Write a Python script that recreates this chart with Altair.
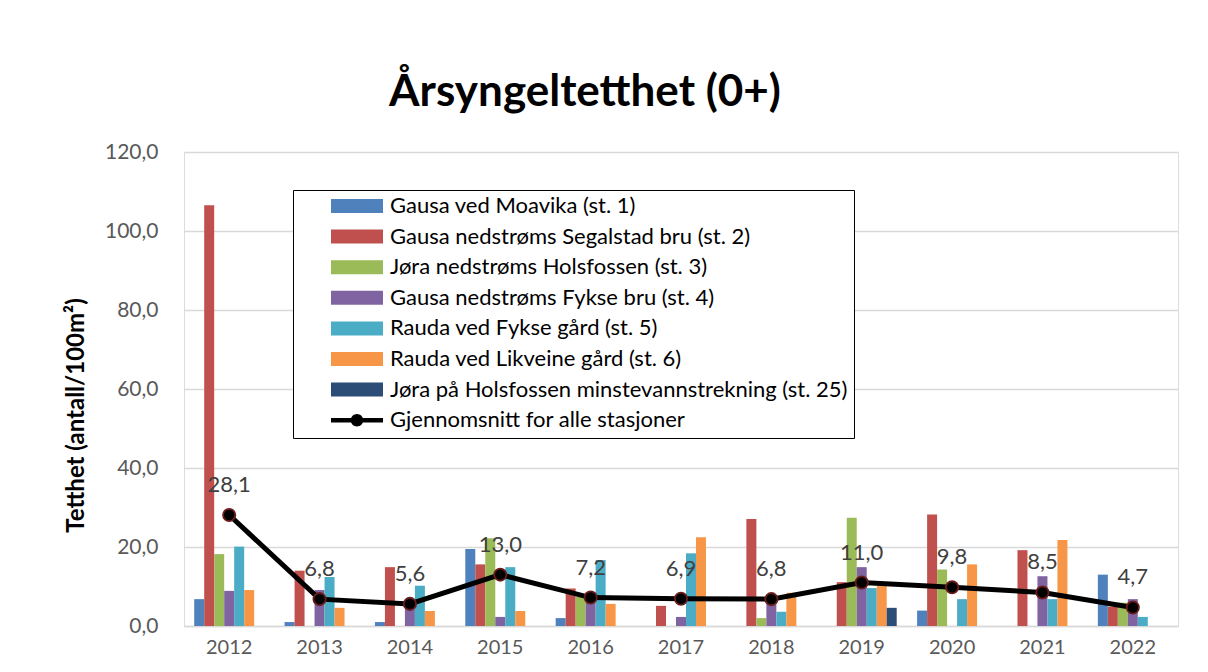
import altair as alt
import pandas as pd

FONT = "Lato"

years = ["2012", "2013", "2014", "2015", "2016", "2017", "2018", "2019", "2020", "2021", "2022"]
series_names = [
    "Gausa ved Moavika (st. 1)",
    "Gausa nedstrøms Segalstad bru (st. 2)",
    "Jøra nedstrøms Holsfossen (st. 3)",
    "Gausa nedstrøms Fykse bru (st. 4)",
    "Rauda ved Fykse gård (st. 5)",
    "Rauda ved Likveine gård (st. 6)",
    "Jøra på Holsfossen minstevannstrekning (st. 25)",
]
MEAN = "Gjennomsnitt for alle stasjoner"

st1 = [6.8, 1.0, 1.0, 19.5, 2.0, 0.0, 0.0, 0.0, 3.9, 0.0, 13.0]
st2 = [106.5, 14.0, 14.9, 15.6, 9.5, 5.1, 27.1, 11.1, 28.2, 19.2, 4.9]
st3 = [18.2, 0.0, 0.0, 22.2, 7.5, 0.0, 2.0, 27.4, 14.3, 0.0, 5.9]
st4 = [8.9, 9.1, 5.0, 2.3, 8.5, 2.3, 6.5, 14.9, 0.0, 12.6, 6.8]
st5 = [20.1, 12.4, 10.2, 14.9, 16.7, 18.4, 3.6, 9.6, 6.8, 6.8, 2.3]
st6 = [9.1, 4.6, 3.8, 3.8, 5.6, 22.5, 8.4, 10.1, 15.6, 21.8, 0.0]
st25 = [0.0, 0.0, 0.0, 0.0, 0.0, 0.0, 0.0, 4.6, 0.0, 0.0, 0.0]
mean_values = [28.1, 6.8, 5.6, 13.0, 7.2, 6.9, 6.8, 11.0, 9.8, 8.5, 4.7]

series_values = [st1, st2, st3, st4, st5, st6, st25]
colors = ["#4f81bd", "#c0504d", "#9bbb59", "#8064a2", "#4bacc6", "#f79646", "#2c4d75"]

rows = []
for name, vals in zip(series_names, series_values):
    for yr, v in zip(years, vals):
        rows.append({"year": yr, "series": name, "value": v})
df = pd.DataFrame(rows)
mean_df = pd.DataFrame({"year": years, "mean": mean_values})

RECT_PATH = "M-1,-0.27H1V0.27H-1Z"
MEAN_PATH = "M-1,-0.085H1V0.085H-1Z M0.24,0A0.24,0.24,0,1,1,-0.24,0A0.24,0.24,0,1,1,0.24,0Z"

all_names = series_names + [MEAN]
color_scale = alt.Scale(domain=all_names, range=colors + ["#000000"])
shape_scale = alt.Scale(domain=all_names, range=[RECT_PATH] * 7 + [MEAN_PATH])

legend = alt.Legend(
    title=None,
    orient="none",
    legendX=109,
    legendY=38,
    direction="vertical",
    symbolSize=2704,
    symbolStrokeWidth=0,
    symbolOpacity=1,
    labelFont=FONT,
    labelFontSize=22,
    labelColor="#000000",
    labelLimit=900,
    labelOffset=7,
    symbolOffset=32,
    clipHeight=20,
    rowPadding=8.6,
    padding=6,
    strokeColor="#000000",
    fillColor="#ffffff",
)

x_enc = alt.X(
    "year:N",
    sort=years,
    scale=alt.Scale(paddingInner=0.226, paddingOuter=0.113),
    axis=alt.Axis(
        title=None, labelAngle=0, ticks=False, domain=True, domainColor="#d9d9d9",
        domainWidth=1.5, labelPadding=11, labelFont=FONT, labelFontSize=20,
        labelColor="#595959", grid=False,
    ),
)
y_scale = alt.Scale(domain=[0, 120], nice=False)

bars = alt.Chart(df).mark_bar().encode(
    x=x_enc,
    xOffset=alt.XOffset("series:N", scale=alt.Scale(domain=series_names, paddingInner=0, paddingOuter=0)),
    y=alt.Y(
        "value:Q",
        scale=y_scale,
        axis=alt.Axis(
            values=[0, 20, 40, 60, 80, 100, 120],
            labelExpr="replace(format(datum.value, '.1f'), '.', ',')",
            grid=True, gridColor="#d9d9d9", gridWidth=1.3,
            domain=False, ticks=False, labelPadding=26,
            labelFont=FONT, labelFontSize=21, labelColor="#595959",
            title="Tetthet (antall/100m²)", titleFont=FONT, titleFontSize=24,
            titleFontWeight="bold", titleColor="#000000",
            titleX=-108, titleY=263, titleAngle=270, titleAlign="center", titleBaseline="middle",
        ),
    ),
    color=alt.Color("series:N", scale=color_scale, legend=legend),
)

# legend-only layer (draws no marks) that adds the per-entry symbol shapes
legend_layer = alt.Chart(df).transform_filter("false").mark_point(filled=True).encode(
    x=alt.X("year:N", sort=years),
    y=alt.Y("value:Q", scale=y_scale),
    color=alt.Color("series:N", scale=color_scale, legend=legend),
    shape=alt.Shape("series:N", scale=shape_scale, legend=legend),
)

line = alt.Chart(mean_df).mark_line(color="#000000", strokeWidth=5).encode(
    x=alt.X("year:N", sort=years),
    y=alt.Y("mean:Q", scale=y_scale),
)
points = alt.Chart(mean_df).mark_circle(
    size=150, color="#000000", opacity=1, stroke="#6b1d1d", strokeWidth=1.8
).encode(
    x=alt.X("year:N", sort=years),
    y=alt.Y("mean:Q", scale=y_scale),
)
labels = alt.Chart(mean_df).transform_calculate(
    lab="replace(format(datum.mean, '.1f'), '.', ',')"
).mark_text(dy=-30, font=FONT, fontSize=22, color="#404040").encode(
    x=alt.X("year:N", sort=years),
    y=alt.Y("mean:Q", scale=y_scale),
    text="lab:N",
)

chart = alt.layer(bars, legend_layer, line, points, labels).properties(
    width=994,
    height=474,
    title=alt.Title(
        "Årsyngeltetthet (0+)", font=FONT, fontSize=44, fontWeight="bold",
        color="#000000", anchor="middle", frame="group", dx=-96, offset=26,
    ),
    autosize=alt.AutoSizeParams(type="none"),
    padding={"left": 176, "top": 144, "right": 22, "bottom": 30},
).configure_view(stroke=None).configure(background="#ffffff")

chart.save("out.html", embed_options={"renderer": "svg", "actions": False})
